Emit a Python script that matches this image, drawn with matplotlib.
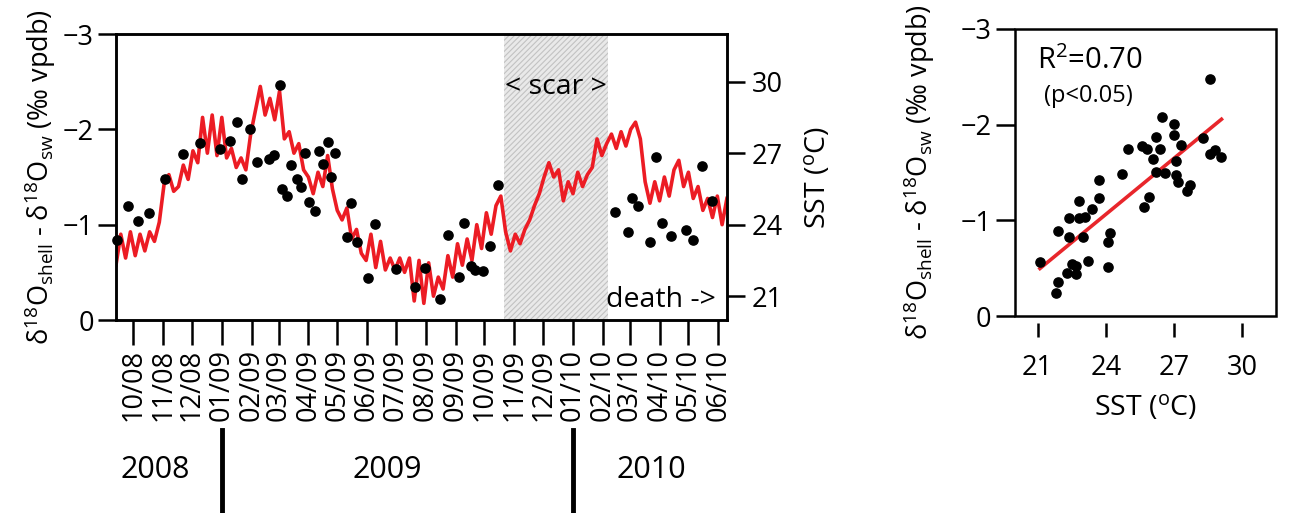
import numpy as np
import pandas as pd
import matplotlib
matplotlib.use('Agg')
import matplotlib.pyplot as plt
import matplotlib.dates as mdates
import matplotlib.transforms as mtransforms
from matplotlib.patches import Rectangle

plt.rcParams['font.family'] = ['Open Sans', 'DejaVu Sans']
plt.rcParams['mathtext.fontset'] = 'custom'
plt.rcParams['mathtext.rm'] = 'Open Sans'
plt.rcParams['mathtext.it'] = 'Open Sans:italic'
plt.rcParams['hatch.linewidth'] = 0.8

# SST record, one value every 5 days from 2008-09-13
sst_start = '2008-09-13'
sst = [22.3, 23.6, 22.6, 23.7, 22.7, 23.6, 22.9, 23.7, 23.3, 24.1,
       25.7, 26.1, 25.4, 25.6, 26.5, 25.9, 27.1, 26.6, 28.5, 27.0,
       28.6, 26.9, 28.5, 26.8, 27.2, 26.4, 26.8, 26.3, 27.8, 28.8,
       29.8, 28.6, 29.3, 28.4, 29.6, 27.6, 27.9, 27.0, 27.4, 26.3,
       26.0, 25.3, 26.2, 25.6, 26.9, 25.5, 24.6, 24.2, 24.7, 23.4,
       23.8, 22.8, 22.5, 23.6, 22.2, 23.3, 22.1, 22.6, 22.1, 22.6,
       22.0, 22.6, 20.8, 22.5, 20.7, 22.4, 21.0, 21.8, 21.3, 22.7,
       21.8, 23.2, 22.3, 23.4, 22.5, 24.0, 23.0, 24.5, 23.6, 24.8,
       25.2, 23.7, 22.9, 23.6, 23.2, 23.8, 24.2, 24.8, 25.3, 26.0,
       26.6, 26.0, 26.3, 25.0, 25.8, 25.3, 26.2, 25.6, 26.1, 26.4,
       27.6, 26.9, 27.4, 27.8, 27.2, 27.9, 27.3, 28.0, 28.3, 27.6,
       25.8, 24.9, 25.8, 25.0, 26.0, 25.2, 26.3, 26.7, 25.6, 26.2,
       25.1, 25.6, 24.6, 25.1, 24.3, 25.2, 24.0, 25.1]

# shell samples (left panel)
sample_dates = ['2008-09-14', '2008-09-25', '2008-10-06', '2008-10-17', '2008-11-03',
                '2008-11-22', '2008-12-09', '2008-12-30', '2009-01-10', '2009-01-17',
                '2009-01-30', '2009-01-22', '2009-02-07', '2009-02-19', '2009-02-24',
                '2009-03-02', '2009-03-05', '2009-03-10', '2009-03-14', '2009-03-20',
                '2009-03-24', '2009-03-28', '2009-04-02', '2009-04-08', '2009-04-12',
                '2009-04-16', '2009-04-21', '2009-04-25', '2009-04-29', '2009-05-11',
                '2009-05-15', '2009-05-22', '2009-06-02', '2009-06-09', '2009-07-01',
                '2009-07-21', '2009-07-31', '2009-08-16', '2009-08-24', '2009-09-05',
                '2009-09-10', '2009-09-17', '2009-09-21', '2009-09-30', '2009-10-07',
                '2009-10-15', '2010-02-14', '2010-02-27', '2010-03-03', '2010-03-10',
                '2010-03-22', '2010-03-28', '2010-04-04', '2010-04-13', '2010-04-28',
                '2010-05-06', '2010-05-15', '2010-05-26']
d18o = [-0.84, -1.20, -1.04, -1.12, -1.48, -1.74, -1.86, -1.79, -1.88, -2.08,
        -2.00, -1.48, -1.66, -1.69, -1.73, -2.47, -1.37, -1.30, -1.63, -1.48,
        -1.39, -1.75, -1.24, -1.14, -1.77, -1.64, -1.87, -1.50, -1.75, -0.87,
        -1.23, -0.82, -0.44, -1.01, -0.54, -0.35, -0.55, -0.22, -0.89, -0.45,
        -1.02, -0.57, -0.52, -0.51, -0.78, -1.42, -1.13, -0.92, -1.28, -1.20,
        -0.82, -1.71, -1.02, -0.88, -0.94, -0.84, -1.62, -1.25]

# samples matched with SST (right panel)
sst_match = [21.1, 21.8, 21.9, 21.9, 22.3, 22.4, 22.4, 22.5, 22.7, 22.7,
             22.8, 22.8, 23.0, 23.1, 23.2, 23.4, 23.7, 23.7, 24.1, 24.2,
             24.1, 24.7, 25.0, 25.6, 25.8, 25.7, 25.9, 26.1, 26.2, 26.2,
             26.4, 26.5, 26.6, 27.0, 27.0, 27.1, 27.1, 27.3, 27.2, 27.6,
             27.7, 28.3, 28.6, 28.6, 28.8, 29.1]
d18o_match = [-0.56, -0.24, -0.36, -0.89, -0.45, -0.83, -1.02, -0.54, -0.52, -0.44,
              -1.20, -1.02, -0.83, -1.03, -0.57, -1.12, -1.23, -1.42, -0.77, -0.87,
              -0.51, -1.48, -1.75, -1.78, -1.75, -1.14, -1.24, -1.64, -1.87, -1.51,
              -1.75, -2.08, -1.49, -2.01, -1.89, -1.62, -1.47, -1.79, -1.40, -1.31,
              -1.37, -1.86, -2.48, -1.69, -1.74, -1.66]

scar_start, scar_end = '2009-10-21', '2010-02-06'
years = ['2008', '2009', '2010']
year_pos = ['2008-10-24', '2009-06-22', '2010-03-23']
year_breaks = ['2009-01-01', '2010-01-01']
month_ticks = pd.date_range('2008-10-01', '2010-06-01', freq='MS')

ylab = r'δ$^{18}$O$_{\rm shell}$ - δ$^{18}$O$_{\rm sw}$ (‰ vpdb)'
TICK = 19.5
LAB = 20.5
YLAB = 19.5

fig = plt.figure(figsize=(12.9, 5.13), dpi=100)

# ---- left panel: time series ----
ax = fig.add_axes([0.0899, 0.3762, 0.4736, 0.5575])
axt = ax.twinx()
ax.set_zorder(2)
ax.patch.set_visible(False)

sst_dates = pd.date_range(sst_start, periods=len(sst), freq='5D')
axt.axvspan(pd.Timestamp(scar_start), pd.Timestamp(scar_end), facecolor='#e9e9e9',
            edgecolor='#c2c2c2', hatch='//////', lw=0, zorder=0)
axt.plot(sst_dates, sst, color='#ec1c24', lw=2.6, zorder=2)
ax.scatter(pd.to_datetime(sample_dates), d18o, s=44, color='black', zorder=3, clip_on=False)

ax.set_xlim(pd.Timestamp('2008-09-13'), pd.Timestamp('2010-06-10'))
ax.set_ylim(0, -3)
ax.set_yticks([0, -1, -2, -3])
axt.set_ylim(20, 32)
axt.set_yticks([21, 24, 27, 30])
ax.set_xticks(month_ticks)
ax.set_xticklabels([d.strftime('%m/%y') for d in month_ticks], rotation=90)

for a in (ax, axt):
    for s in a.spines.values():
        s.set_linewidth(1.8)
ax.tick_params(axis='y', direction='out', length=13, width=1.8, labelsize=TICK, pad=3)
ax.tick_params(axis='x', direction='out', length=18, width=1.8, labelsize=TICK, pad=3)
axt.tick_params(axis='y', direction='out', length=13, width=1.8, labelsize=TICK, pad=5)
ax.set_ylabel(ylab, fontsize=YLAB)
ax.yaxis.set_label_coords(-0.095, 0.5)
axt.set_ylabel(r'SST ($^{\rm o}$C)', fontsize=LAB)
axt.yaxis.set_label_coords(1.124, 0.5)

ax.text(0.72, 0.815, '< scar >', transform=ax.transAxes, ha='center', va='center', fontsize=LAB)
ax.text(0.982, 0.07, 'death ->', transform=ax.transAxes, ha='right', va='center', fontsize=LAB)

trans = mtransforms.blended_transform_factory(ax.transData, ax.transAxes)
for b in year_breaks:
    xb = mdates.date2num(pd.Timestamp(b))
    ax.plot([xb, xb], [-0.385, -0.68], transform=trans, clip_on=False, color='black', lw=3.5)
for y, p in zip(years, year_pos):
    ax.text(mdates.date2num(pd.Timestamp(p)), -0.525, y, transform=trans, ha='center',
            va='center', fontsize=22)

# ---- right panel: d18O vs SST ----
ax2 = fig.add_axes([0.7868, 0.384, 0.2023, 0.5595])
ax2.scatter(sst_match, d18o_match, s=44, color='black', zorder=3)
coef = np.polyfit(sst_match, d18o_match, 1)
xs = np.array([min(sst_match), max(sst_match)])
ax2.plot(xs, np.polyval(coef, xs), color='#e8262b', lw=2.6, zorder=2)
ax2.set_xlim(20, 31.5)
ax2.set_ylim(0, -3)
ax2.set_xticks([21, 24, 27, 30])
ax2.set_yticks([0, -1, -2, -3])
for s in ax2.spines.values():
    s.set_visible(False)
ax2.spines['bottom'].set_position(('outward', 5))
ax2.add_patch(Rectangle((0, 0), 1, 1, transform=ax2.transAxes, fill=False, lw=1.8,
                        clip_on=False, zorder=5))
ax2.tick_params(axis='y', direction='out', length=14, width=1.8, labelsize=TICK, pad=3)
ax2.tick_params(axis='x', direction='out', length=10, width=1.8, labelsize=TICK, pad=12)
ax2.set_ylabel(ylab, fontsize=YLAB)
ax2.yaxis.set_label_coords(-0.30, 0.5)
ax2.set_xlabel(r'SST ($^{\rm o}$C)', fontsize=LAB, labelpad=8)
ax2.text(0.083, 0.89, r'R$^2$=0.70', transform=ax2.transAxes, ha='left', va='center', fontsize=21)
ax2.text(0.11, 0.765, '(p<0.05)', transform=ax2.transAxes, ha='left', va='center', fontsize=17)

fig.savefig('out.png', dpi=100)
